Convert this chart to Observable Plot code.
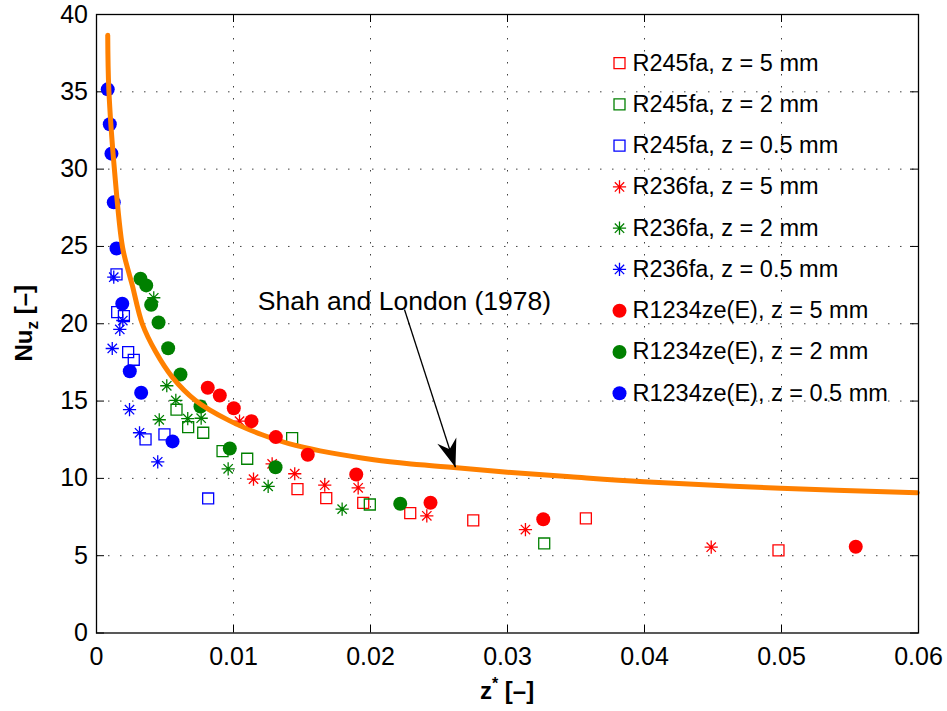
<!DOCTYPE html>
<html>
<head>
<meta charset="utf-8">
<script src="https://cdn.jsdelivr.net/npm/d3@7"></script>
<script src="https://cdn.jsdelivr.net/npm/@observablehq/plot@0.6"></script>
<style>
  html, body { margin: 0; padding: 0; background: #fff; }
</style>
</head>
<body>
<div id="chart"></div>
<script>
// ---------------- data ----------------
const xTicks = [0, 0.01, 0.02, 0.03, 0.04, 0.05, 0.06];
const xTickLabels = ["0", "0.01", "0.02", "0.03", "0.04", "0.05", "0.06"];
const yTicks = [0, 5, 10, 15, 20, 25, 30, 35, 40];
const yTickLabels = ["0", "5", "10", "15", "20", "25", "30", "35", "40"];

// R245fa (open squares)
const R245fa_5mm = [[0.01467,9.30],[0.01677,8.72],[0.01947,8.42],[0.02290,7.75],[0.02750,7.28],[0.03572,7.41],[0.04978,5.34]];
const R245fa_2mm = [[0.00584,14.44],[0.00669,13.31],[0.00779,12.95],[0.00920,11.76],[0.01100,11.27],[0.01428,12.60],[0.01995,8.31],[0.03268,5.79]];
const R245fa_05mm = [[0.00146,23.19],[0.00151,20.75],[0.00200,20.49],[0.00231,18.16],[0.00272,17.67],[0.00358,12.52],[0.00496,12.84],[0.00815,8.70]];
// R236fa (asterisks)
const R236fa_5mm = [[0.01044,13.70],[0.01282,10.94],[0.01146,9.95],[0.01447,10.30],[0.01666,9.56],[0.01910,9.39],[0.02411,7.58],[0.03131,6.69],[0.04487,5.55]];
const R236fa_2mm = [[0.00418,21.68],[0.00513,15.99],[0.00579,15.04],[0.00458,13.79],[0.00666,13.86],[0.00764,13.89],[0.00961,10.62],[0.01253,9.48],[0.01793,8.01]];
const R236fa_05mm = [[0.00126,23.01],[0.00192,20.21],[0.00170,19.63],[0.00115,18.40],[0.00241,14.44],[0.00314,12.95],[0.00447,11.07]];
// R1234ze(E) (filled circles)
const R1234ze_5mm = [[0.00812,15.86],[0.00900,15.36],[0.01002,14.54],[0.01131,13.70],[0.01309,12.67],[0.01542,11.53],[0.01896,10.25],[0.02438,8.42],[0.03261,7.36],[0.05542,5.58]];
const R1234ze_2mm = [[0.00321,22.91],[0.00363,22.48],[0.00399,21.23],[0.00453,20.08],[0.00523,18.42],[0.00613,16.72],[0.00759,14.65],[0.00973,11.93],[0.01307,10.72],[0.02217,8.36]];
const R1234ze_05mm = [[0.00082,35.16],[0.00097,32.90],[0.00109,31.00],[0.00126,27.85],[0.00146,24.87],[0.00188,21.29],[0.00243,16.93],[0.00326,15.54],[0.00555,12.39]];

// Shah and London (1978) curve
const shahLondon = [[0.00082,38.65],[0.00090,35.16],[0.00131,29.96],[0.00190,24.95],[0.00236,23.30],[0.00261,22.50],[0.00334,20.00],[0.00431,18.20],[0.00553,16.55],[0.00723,15.04],[0.00966,13.75],[0.01209,12.82],[0.01453,12.13],[0.02024,11.20],[0.02365,10.88],[0.02608,10.70],[0.02998,10.40],[0.03460,10.10],[0.03995,9.78],[0.04993,9.36],[0.05991,9.07]];

const annotationLabel = "Shah and London (1978)";
const annotationAt = [0.02248, 20.92];
const arrowTip = [0.02620, 10.72];

const legendLabels = [
  "R245fa, z = 5 mm", "R245fa, z = 2 mm", "R245fa, z = 0.5 mm",
  "R236fa, z = 5 mm", "R236fa, z = 2 mm", "R236fa, z = 0.5 mm",
  "R1234ze(E), z = 5 mm", "R1234ze(E), z = 2 mm", "R1234ze(E), z = 0.5 mm"
];

// ---------------- styling ----------------
const RED = "#ff0000", GREEN = "#008000", BLUE = "#0000ff", ORANGE = "#ff8000";
const FONT = "'Liberation Sans', Arial, Helvetica, sans-serif";

const asterisk = {
  draw(ctx, size) {
    const r = Math.sqrt(size / Math.PI), d = r * Math.SQRT1_2;
    ctx.moveTo(-r, 0); ctx.lineTo(r, 0);
    ctx.moveTo(0, -r); ctx.lineTo(0, r);
    ctx.moveTo(-d, -d); ctx.lineTo(d, d);
    ctx.moveTo(-d, d); ctx.lineTo(d, -d);
  }
};
const arrowHead = {
  draw(ctx) {
    ctx.moveTo(0, 0);
    ctx.lineTo(-10, -28);
    ctx.lineTo(0, -19);
    ctx.lineTo(10, -28);
    ctx.closePath();
  }
};

const series = [
  {data: R245fa_5mm, kind: "square", color: RED},
  {data: R245fa_2mm, kind: "square", color: GREEN},
  {data: R245fa_05mm, kind: "square", color: BLUE},
  {data: R236fa_5mm, kind: "asterisk", color: RED},
  {data: R236fa_2mm, kind: "asterisk", color: GREEN},
  {data: R236fa_05mm, kind: "asterisk", color: BLUE},
  {data: R1234ze_5mm, kind: "circle", color: RED},
  {data: R1234ze_2mm, kind: "circle", color: GREEN},
  {data: R1234ze_05mm, kind: "circle", color: BLUE}
];

function markStyle(s) {
  if (s.kind === "square") return {symbol: "square", r: 6.2, fill: "none", stroke: s.color, strokeWidth: 1.3};
  if (s.kind === "asterisk") return {symbol: asterisk, r: 6.6, fill: "none", stroke: s.color, strokeWidth: 1.3};
  return {symbol: "circle", r: 7, fill: s.color, stroke: "none"};
}

const W = 947, H = 711, ML = 96, MR = 29, MT = 14, MB = 78.5;
const FW = W - ML - MR, FH = H - MT - MB;
const kx = FW / 0.06, ky = FH / 40;
const arrowAngle = -Math.atan2((arrowTip[0] - annotationAt[0]) * kx, (annotationAt[1] - arrowTip[1]) * ky) * 180 / Math.PI;

const dataMarks = [];
// order: squares, asterisks, blue/green circles, curve, red circles
[0,1,2,3,4,5,8,7].forEach(i => {
  dataMarks.push(Plot.dot(series[i].data, {x: d => d[0], y: d => d[1], ...markStyle(series[i])}));
});
dataMarks.push(Plot.line(shahLondon, {x: d => d[0], y: d => d[1], stroke: ORANGE, strokeWidth: 5, curve: "catmull-rom"}));
dataMarks.push(Plot.dot(series[6].data, {x: d => d[0], y: d => d[1], ...markStyle(series[6])}));

const legendMarks = [];
legendLabels.forEach((lab, i) => {
  const dy = 48.7 + i * 41.25;
  legendMarks.push(Plot.dot([lab], {frameAnchor: "top-left", dx: 523, dy, ...markStyle(series[i])}));
  legendMarks.push(Plot.text([lab], {frameAnchor: "top-left", dx: 536, dy, text: d => d, textAnchor: "start", lineAnchor: "middle", fontSize: 23.5, fill: "black"}));
});

const chart = Plot.plot({
  width: W, height: H,
  marginLeft: ML, marginRight: MR, marginTop: MT, marginBottom: MB,
  style: {fontFamily: FONT, background: "white", color: "black"},
  x: {domain: [0, 0.06], label: null},
  y: {domain: [0, 40], label: null},
  marks: [
    Plot.gridX(xTicks.slice(1, -1), {stroke: "#000", strokeOpacity: 0.75, strokeWidth: 1, strokeDasharray: "1.5,10.5"}),
    Plot.gridY(yTicks.slice(1, -1), {stroke: "#000", strokeOpacity: 0.75, strokeWidth: 1, strokeDasharray: "1.5,10.5"}),
    Plot.tickX(xTicks, {x: d => d, stroke: "black", insetTop: FH - 8}),
    Plot.tickX(xTicks, {x: d => d, stroke: "black", insetBottom: FH - 8}),
    Plot.tickY(yTicks, {y: d => d, stroke: "black", insetRight: FW - 8}),
    Plot.tickY(yTicks, {y: d => d, stroke: "black", insetLeft: FW - 8}),
    Plot.axisX(xTicks, {anchor: "bottom", tickSize: 0, tickPadding: 14.5, fontSize: 25, label: null, tickFormat: d => xTickLabels[xTicks.indexOf(d)]}),
    Plot.axisY(yTicks, {anchor: "left", tickSize: 0, tickPadding: 8.5, fontSize: 25, label: null, tickFormat: d => yTickLabels[yTicks.indexOf(d)]}),
    ...legendMarks,
    ...dataMarks,
    Plot.link([[annotationAt, arrowTip]], {x1: d => d[0][0], y1: d => d[0][1], x2: d => d[1][0], y2: d => d[1][1], stroke: "black", strokeWidth: 1.3}),
    Plot.dot([arrowTip], {x: d => d[0], y: d => d[1], symbol: arrowHead, r: 10, rotate: arrowAngle, fill: "black", stroke: "none"}),
    Plot.text([annotationAt], {x: d => d[0], y: d => d[1], text: () => annotationLabel, textAnchor: "middle", lineAnchor: "bottom", fontSize: 26.5, fill: "black"}),
    Plot.frame({stroke: "black", strokeWidth: 1.3})
  ]
});
document.getElementById("chart").appendChild(chart);

// axis titles with sub/superscripts
const svg = d3.select(chart);
const yl = svg.append("text")
  .attr("transform", `translate(32,${MT + FH / 2}) rotate(-90)`)
  .attr("text-anchor", "middle")
  .attr("font-family", FONT).attr("font-weight", "bold").attr("font-size", 24).attr("fill", "black");
yl.append("tspan").text("Nu");
yl.append("tspan").attr("dy", 6).attr("font-size", 17).text("z");
yl.append("tspan").attr("dy", -6).text(" [–]");

const xl = svg.append("text")
  .attr("transform", `translate(${ML + FW / 2},699)`)
  .attr("text-anchor", "middle")
  .attr("font-family", FONT).attr("font-weight", "bold").attr("font-size", 24).attr("fill", "black");
xl.append("tspan").text("z");
xl.append("tspan").attr("dy", -10).attr("font-size", 16).text("*");
xl.append("tspan").attr("dy", 10).text(" [–]");
</script>
</body>
</html>
